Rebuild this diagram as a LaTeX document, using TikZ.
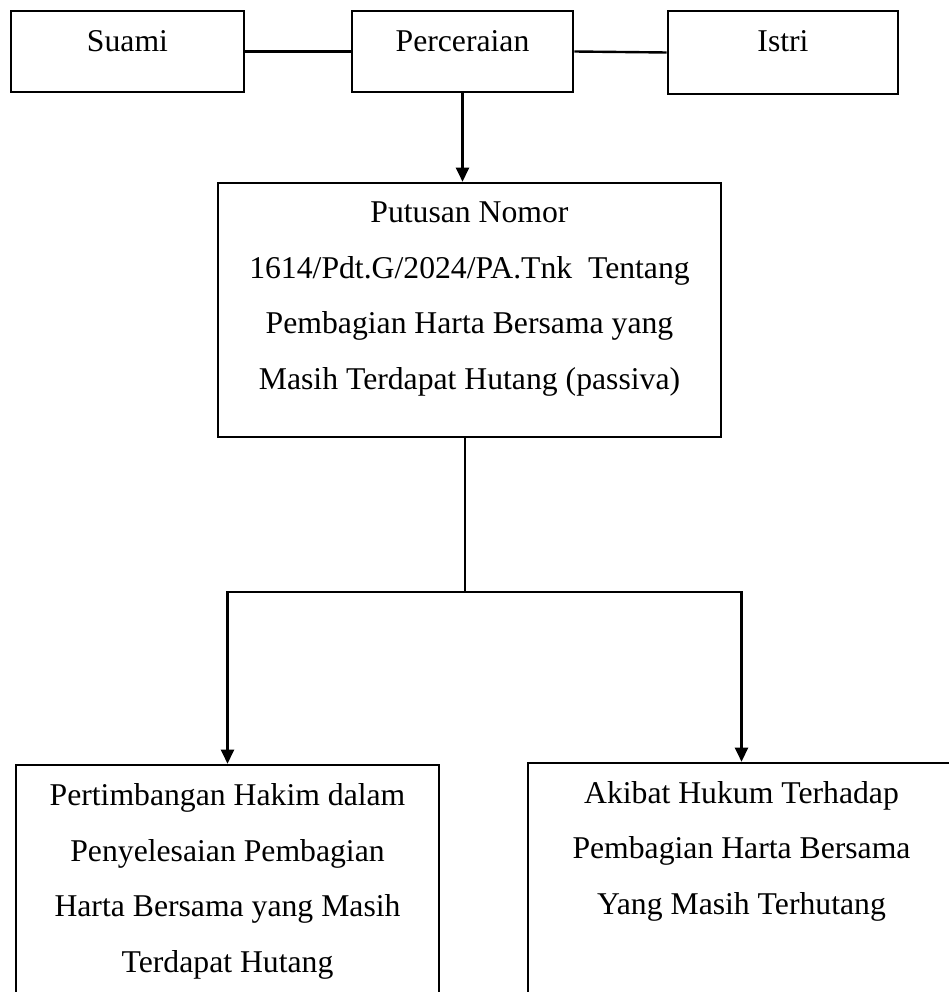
\documentclass[tikz,border=0pt]{standalone}
\usepackage{fontspec}
\setmainfont{Liberation Serif}
\usetikzlibrary{arrows.meta}
\begin{document}
\begin{tikzpicture}[x=1pt,y=-1pt,
  boxnode/.style={draw, line width=2.6pt, inner sep=0pt, rectangle},
  txt/.style={inner sep=0pt, anchor=base, align=center, font=\fontsize{31.7}{55.5}\selectfont},
  ln/.style={line width=2.4pt},
  arr/.style={line width=2.4pt, -{Triangle[length=14pt,width=13pt]}}]
\useasboundingbox (0,0) rectangle (949,992);
\clip (0,0) rectangle (949,992);
% boxes
\node[boxnode, minimum width=233pt, minimum height=81pt] (suami) at (127.5,51.5) {};
\node[boxnode, minimum width=221pt, minimum height=81pt] (perc) at (462.5,51.5) {};
\node[boxnode, minimum width=230pt, minimum height=83pt] (istri) at (783,52.5) {};
\node[boxnode, minimum width=503pt, minimum height=254pt] (put) at (469.5,310) {};
\node[boxnode, minimum width=423pt, minimum height=245pt] (lb) at (227.5,887.5) {};
\node[boxnode, minimum width=427pt, minimum height=247pt] (rb) at (741.5,886.5) {};
% texts (anchor base = baseline of the last line)
\node[txt] (suamiT) at (127.5,52) {Suami};
\node[txt] (percT) at (462.5,52) {Perceraian};
\node[txt] (istriT) at (783,52) {Istri};
\node[txt] (putT) at (469.5,389) {Putusan Nomor\\1614/Pdt.G/2024/PA.Tnk\ \ Tentang\\Pembagian Harta Bersama yang\\Masih Terdapat Hutang (passiva)};
\node[txt] (lbT) at (227.5,972) {Pertimbangan Hakim dalam\\Penyelesaian Pembagian\\Harta Bersama yang Masih\\Terdapat Hutang};
\node[txt] (rbT) at (741.5,914) {Akibat Hukum Terhadap\\Pembagian Harta Bersama\\Yang Masih Terhutang};
% connectors
\draw[ln] (suami.east) -- (perc.west);
\draw[ln] (perc.east) -- (istri.west);
\draw[arr] (perc.south) -- (perc.south |- put.north);
\coordinate (j) at (465,592);
\draw[ln] (j |- put.south) -- (j);
\draw[arr] (j) -| (lb.north);
\draw[arr] (j) -| (rb.north);
\end{tikzpicture}
\end{document}
